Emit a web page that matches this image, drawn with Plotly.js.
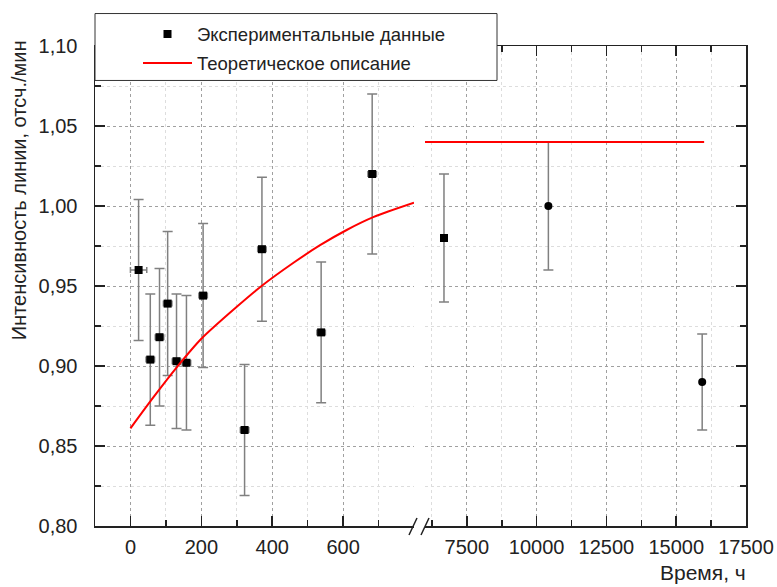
<!DOCTYPE html>
<html>
<head>
<meta charset="utf-8">
<script src="https://cdn.plot.ly/plotly-3.0.1.min.js"></script>
<style>html,body{margin:0;padding:0;background:#fff;}#chart{width:777px;height:587px;}</style>
</head>
<body>
<div id="chart"></div>
<script>
// ---- data ----
const expTimeLeft = [23, 56, 82, 105, 130, 158, 205, 322, 371, 538, 682];
const expValLeft  = [0.960, 0.904, 0.918, 0.939, 0.903, 0.902, 0.944, 0.860, 0.973, 0.921, 1.020];
const expErrLeft  = [0.044, 0.041, 0.043, 0.045, 0.042, 0.042, 0.045, 0.041, 0.045, 0.044, 0.050];
const expTimeErrLeft = [23, 12, 12, 12, 12, 12, 12, 12, 12, 12, 12];

const expTimeRight = [6680, 10420, 15930];
const expValRight  = [0.980, 1.000, 0.890];
const expErrRight  = [0.040, 0.040, 0.030];

const theoryTimeLeft = [0, 65, 130, 200, 300, 370, 460, 535, 610, 685, 800];
const theoryValLeft  = [0.861, 0.8805, 0.899, 0.917, 0.937, 0.950, 0.9645, 0.9755, 0.985, 0.993, 1.002];
const theoryTimeRight = [6000, 16000];
const theoryValRight  = [1.040, 1.040];

const yTickVals = [0.80, 0.85, 0.90, 0.95, 1.00, 1.05, 1.10];
const yTickText = ['0,80', '0,85', '0,90', '0,95', '1,00', '1,05', '1,10'];
const xLeftTickVals = [0, 200, 400, 600];
const xLeftTickText = ['0', '200', '400', '600'];
const xLeftMinor = [100, 300, 500, 700];
const xRightTickVals = [7500, 10000, 12500, 15000, 17500];
const xRightTickText = ['7500', '10000', '12500', '15000', '17500'];
const xRightMinor = [6250, 8750, 11250, 13750, 16250];

const legendExp = 'Экспериментальные данные';
const legendTheory = 'Теоретическое описание';
const yTitle = 'Интенсивность линии, отсч./мин';
const xTitle = 'Время, ч';

// ---- styling ----
const FONT = 'Liberation Sans, Arial, sans-serif';
const ERRC = '#808080';
const AXC = '#222222';

const traces = [
  {
    x: expTimeLeft, y: expValLeft, xaxis: 'x', yaxis: 'y',
    type: 'scatter', mode: 'markers', name: legendExp, legendgroup: 'a',
    marker: {symbol: 'square', size: 8, color: '#000'},
    error_y: {type: 'data', array: expErrLeft, color: ERRC, thickness: 1.5, width: 5},
    error_x: {type: 'data', array: expTimeErrLeft, color: ERRC, thickness: 1.5, width: 3}
  },
  {
    x: expTimeRight, y: expValRight, xaxis: 'x2', yaxis: 'y',
    type: 'scatter', mode: 'markers', name: legendExp, showlegend: false,
    marker: {symbol: ['square', 'circle', 'circle'], size: 8, color: '#000'},
    error_y: {type: 'data', array: expErrRight, color: ERRC, thickness: 1.5, width: 5}
  },
  {
    x: theoryTimeLeft, y: theoryValLeft, xaxis: 'x', yaxis: 'y',
    type: 'scatter', mode: 'lines', name: legendTheory, legendgroup: 'b',
    line: {color: '#ff0000', width: 2, shape: 'spline', smoothing: 0.8}
  },
  {
    x: theoryTimeRight, y: theoryValRight, xaxis: 'x2', yaxis: 'y',
    type: 'scatter', mode: 'lines', name: legendTheory, showlegend: false,
    line: {color: '#ff0000', width: 2}
  },
  {
    x: [], y: [], xaxis: 'x2', yaxis: 'y2', type: 'scatter', mode: 'markers',
    showlegend: false, hoverinfo: 'skip'
  }
];

const commonAx = {
  showline: true, linecolor: AXC, linewidth: 1.5,
  ticks: 'inside', ticklen: 10, tickwidth: 1.5, tickcolor: AXC,
  tickfont: {family: FONT, size: 20, color: '#222'},
  zeroline: false,
  gridcolor: '#a0a0a0', griddash: 'dot', gridwidth: 1
};

const L = 95, R = 746, T = 45.5, B = 526;
const W = R - L, H = B - T;
const px2x = p => (p - L) / W;
const px2y = p => (B - p) / H;

const layout = {
  width: 777, height: 587,
  margin: {l: L, r: 777 - R, t: T, b: 587 - B, pad: 0},
  paper_bgcolor: '#fff', plot_bgcolor: '#fff',
  font: {family: FONT, color: '#222'},
  showlegend: true,
  xaxis: Object.assign({}, commonAx, {
    domain: [0, px2x(414)], anchor: 'y', range: [-100, 800],
    tickmode: 'array', tickvals: xLeftTickVals, ticktext: xLeftTickText,
    mirror: 'ticks', ticklabelstandoff: 2,
    minor: {tickmode: 'array', tickvals: xLeftMinor, ticks: 'inside', ticklen: 6, tickwidth: 1.5, tickcolor: AXC,
            showgrid: true, gridcolor: '#dddddd', griddash: 'dot', gridwidth: 1}
  }),
  xaxis2: Object.assign({}, commonAx, {
    domain: [px2x(425), 1], anchor: 'y', range: [6000, 17500],
    tickmode: 'array', tickvals: xRightTickVals, ticktext: xRightTickText,
    mirror: 'ticks', ticklabelstandoff: 2,
    minor: {tickmode: 'array', tickvals: xRightMinor, ticks: 'inside', ticklen: 6, tickwidth: 1.5, tickcolor: AXC,
            showgrid: true, gridcolor: '#dddddd', griddash: 'dot', gridwidth: 1}
  }),
  yaxis: Object.assign({}, commonAx, {
    domain: [0, 1], anchor: 'x', range: [0.80, 1.10],
    tickmode: 'array', tickvals: yTickVals, ticktext: yTickText,
    mirror: false, ticklabelstandoff: 12,
    minor: {dtick: 0.025, tick0: 0.8, ticks: 'inside', ticklen: 6, tickwidth: 1.5, tickcolor: AXC,
            showgrid: true, gridcolor: '#dddddd', griddash: 'dot', gridwidth: 1}
  }),
  yaxis2: Object.assign({}, commonAx, {
    overlaying: 'y', anchor: 'x2', side: 'right', range: [0.80, 1.10],
    tickmode: 'array', tickvals: yTickVals, showticklabels: false, showgrid: false,
    minor: {dtick: 0.025, tick0: 0.8, ticks: 'inside', ticklen: 6, tickwidth: 1.5, tickcolor: AXC, showgrid: false}
  }),
  legend: {
    x: px2x(138), y: px2y(15), xanchor: 'left', yanchor: 'top',
    bgcolor: 'rgba(0,0,0,0)', borderwidth: 0,
    font: {family: FONT, size: 18.5, color: '#222'},
    itemwidth: 49, traceorder: 'grouped', tracegroupgap: 2
  },
  shapes: [
    {type: 'rect', xref: 'paper', yref: 'paper', layer: 'above',
     x0: 0, x1: px2x(497), y0: px2y(80), y1: px2y(13),
     fillcolor: '#ffffff', line: {color: '#333', width: 1}},
    {type: 'line', xref: 'paper', yref: 'paper', layer: 'above',
     x0: px2x(409), y0: px2y(535), x1: px2x(417), y1: px2y(518), line: {color: AXC, width: 1.5}},
    {type: 'line', xref: 'paper', yref: 'paper', layer: 'above',
     x0: px2x(421), y0: px2y(535), x1: px2x(429), y1: px2y(518), line: {color: AXC, width: 1.5}}
  ],
  annotations: [
    {text: yTitle, xref: 'paper', yref: 'paper', x: px2x(19), y: px2y(190),
     xanchor: 'center', yanchor: 'middle', textangle: -90, showarrow: false,
     font: {family: FONT, size: 20, color: '#222'}},
    {text: xTitle, xref: 'paper', yref: 'paper', x: px2x(748), y: px2y(573),
     xanchor: 'right', yanchor: 'middle', showarrow: false,
     font: {family: FONT, size: 21, color: '#222'}}
  ]
};

Plotly.newPlot('chart', traces, layout, {displayModeBar: false, staticPlot: true});
</script>
</body>
</html>
